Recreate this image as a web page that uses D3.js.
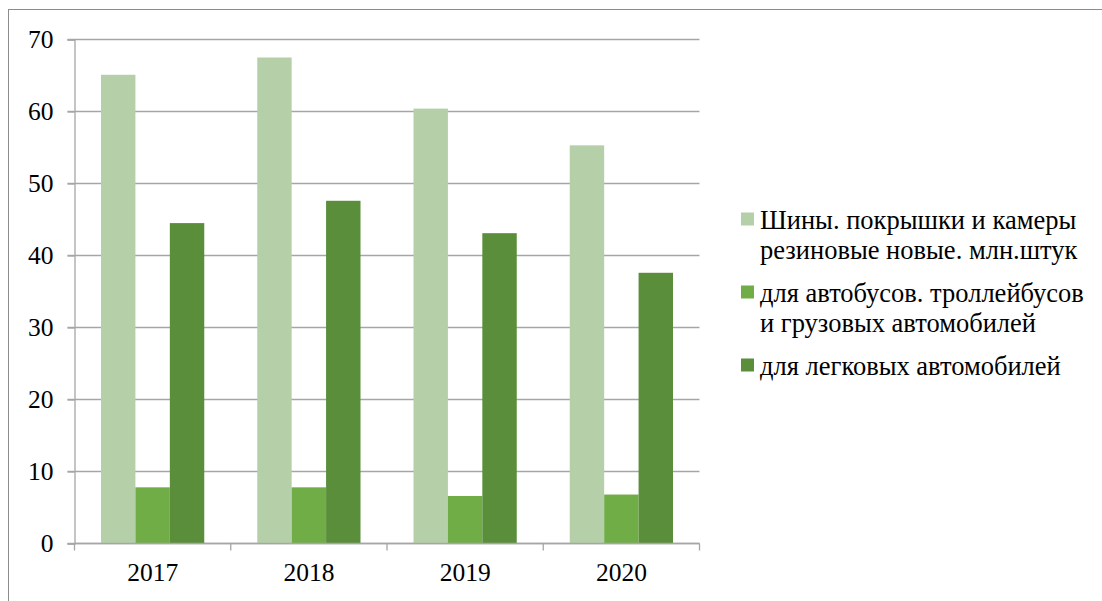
<!DOCTYPE html>
<html>
<head>
<meta charset="utf-8">
<script src="https://cdn.jsdelivr.net/npm/d3@7/dist/d3.min.js"></script>
<style>
  html, body { margin: 0; padding: 0; background: #fff; }
  svg, svg text { font-family: "Liberation Serif", "Times New Roman", Times, serif; }
  svg { display: block; }
</style>
</head>
<body>
<svg id="chart" width="1102" height="601"></svg>
<script>
// Production of tyres, 2017–2020
const years = ["2017", "2018", "2019", "2020"];
const seriesNames = [
  ["Шины. покрышки и камеры", "резиновые новые. млн.штук"],
  ["для автобусов. троллейбусов", "и грузовых автомобилей"],
  ["для легковых автомобилей"]
];
const totalTyres = [65.1, 67.5, 60.4, 55.3];
const busTruckTyres = [7.8, 7.8, 6.6, 6.8];
const carTyres = [44.5, 47.6, 43.1, 37.6];
const yTicks = [0, 10, 20, 30, 40, 50, 60, 70];
const colors = ["#b5cfa8", "#70ad47", "#5a8e3a"];

const series = [totalTyres, busTruckTyres, carTyres];

const serif = "'Liberation Serif', 'Times New Roman', Times, serif";
const svg = d3.select("#chart");
const axisFont = 25.5;
const legendFont = 26.5;

// outer chart frame
svg.append("rect")
  .attr("x", 8.5).attr("y", 9.5)
  .attr("width", 1102).attr("height", 600)
  .attr("fill", "none").attr("stroke", "#8c8c8c").attr("stroke-width", 1);

const plot = { left: 74.5, right: 699.5, top: 39.5, bottom: 543.5 };

const x = d3.scaleBand().domain(years).range([plot.left, plot.right]).paddingInner(0).paddingOuter(0);
const xInner = d3.scaleBand().domain(d3.range(series.length))
  .range([0, x.bandwidth()]).paddingInner(0).paddingOuter(0.77);
const y = d3.scaleLinear().domain([0, 70]).range([plot.bottom, plot.top]);

// horizontal gridlines
svg.append("g")
  .selectAll("line")
  .data(yTicks)
  .join("line")
  .attr("x1", plot.left - 7).attr("x2", plot.right)
  .attr("y1", d => y(d)).attr("y2", d => y(d))
  .attr("stroke", "#a6a6a6").attr("stroke-width", 1.3);

// bars
const groups = svg.append("g")
  .selectAll("g")
  .data(years)
  .join("g")
  .attr("transform", d => `translate(${x(d)},0)`);

groups.selectAll("rect")
  .data((d, i) => series.map((s, k) => ({ k, v: s[i] })))
  .join("rect")
  .attr("x", d => xInner(d.k))
  .attr("width", xInner.bandwidth())
  .attr("y", d => y(d.v))
  .attr("height", d => y(0) - y(d.v))
  .attr("fill", d => colors[d.k]);

// y axis
const yAxis = d3.axisLeft(y).tickValues(yTicks).tickSize(7).tickPadding(14).tickFormat(d3.format("d"));
const gy = svg.append("g").attr("transform", `translate(${plot.left},0)`).call(yAxis);
gy.attr("font-family", serif).attr("font-size", axisFont);
gy.select(".domain").attr("stroke", "#a6a6a6").attr("stroke-width", 1.3);
gy.selectAll(".tick line").attr("stroke", "#a6a6a6").attr("stroke-width", 1.3);
gy.selectAll(".tick text").attr("fill", "#000").style("font-family", serif).style("font-size", axisFont + "px");

// x axis
const xAxis = d3.axisBottom(x).tickSize(0).tickPadding(19);
const gx = svg.append("g").attr("transform", `translate(0,${plot.bottom})`).call(xAxis);
gx.attr("font-family", serif).attr("font-size", axisFont);
gx.select(".domain").remove();
gx.append("line")
  .attr("x1", plot.left).attr("x2", plot.right)
  .attr("stroke", "#a6a6a6").attr("stroke-width", 1.3);
gx.selectAll(".tick text").attr("fill", "#000").style("font-family", serif).style("font-size", axisFont + "px");
// category boundary ticks
const bounds = years.map(d => x(d)).concat([plot.right]);
gx.selectAll(".bound")
  .data(bounds)
  .join("line")
  .attr("class", "bound")
  .attr("x1", d => d).attr("x2", d => d)
  .attr("y1", 0).attr("y2", 7)
  .attr("stroke", "#a6a6a6").attr("stroke-width", 1.3);

// legend
const legendBaselines = [229, 302, 375];
const lineGap = 30;
const legend = svg.append("g");
seriesNames.forEach((lines, k) => {
  const by = legendBaselines[k];
  legend.append("rect")
    .attr("x", 741).attr("y", by - 16.5)
    .attr("width", 13).attr("height", 13)
    .attr("fill", colors[k]);
  const t = legend.append("text")
    .attr("x", 760).attr("y", by)
    .style("font-family", serif).style("font-size", legendFont + "px")
    .attr("fill", "#000");
  lines.forEach((ln, j) => {
    t.append("tspan").attr("x", 760).attr("y", by + j * lineGap).text(ln);
  });
});
</script>
</body>
</html>
